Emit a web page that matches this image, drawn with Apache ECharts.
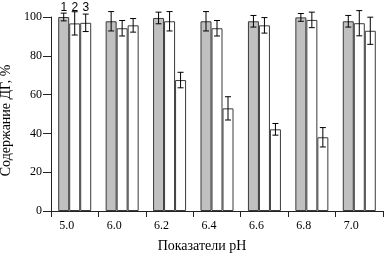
<!DOCTYPE html>
<html>
<head>
<meta charset="UTF-8">
<title>pH</title>
<script type="text/javascript" src="https://cdn.jsdelivr.net/npm/echarts@6/dist/echarts.min.js"></script>
<style>
body { margin: 0; background: #fff; }
#div { width: 384px; height: 254px; }
</style>
</head>
<body>
<div id="div"></div>
<script type="text/javascript">
var categories = ['5.0', '6.0', '6.2', '6.4', '6.6', '6.8', '7.0'];
var s1 = [100, 97.8, 99.5, 97.8, 97.8, 99.8, 97.8];
var s2 = [96.7, 94.2, 97.8, 94.2, 95.7, 98.5, 96.8];
var s3 = [97, 95.7, 67.5, 52.9, 42.1, 38, 92.9];
var e1 = [2, 5, 3, 5, 3, 2, 3];
var e2 = [6, 4, 5, 4, 4, 4, 6.5];
var e3 = [4.5, 3.5, 4, 6, 3, 5, 7];
var seriesNames = ['1', '2', '3'];
var yTicks = [0, 20, 40, 60, 80, 100];

var barW = 11;
var font = '"Liberation Serif", "DejaVu Serif", serif';

function errSeries(vals, errs, k) {
	return {
		type : 'custom',
		z : 10,
		data : vals.map(function(v, i) { return [i, v, errs[i]]; }),
		encode : { x : 0, y : 1 },
		renderItem : function(params, api) {
			var i = api.value(0), v = api.value(1), e = api.value(2);
			var hi = api.coord([i, v + e]);
			var lo = api.coord([i, v - e]);
			var x = hi[0] + (k - 1) * barW;
			var c = 3;
			var st = { stroke : '#000', lineWidth : 1 };
			return { type : 'group', children : [
				{ type : 'line', shape : { x1 : x, y1 : hi[1], x2 : x, y2 : lo[1] }, style : st },
				{ type : 'line', shape : { x1 : x - c, y1 : hi[1], x2 : x + c, y2 : hi[1] }, style : st },
				{ type : 'line', shape : { x1 : x - c, y1 : lo[1], x2 : x + c, y2 : lo[1] }, style : st }
			] };
		}
	};
}

function barSeries(vals, name, color) {
	return {
		name : name,
		type : 'bar',
		barWidth : barW,
		barGap : '0%',
		data : vals,
		itemStyle : { color : color, borderColor : '#3a3a3a', borderWidth : 1 }
	};
}

var mychart = echarts.init(document.getElementById('div'));
var option = {
	animation : false,
	grid : { left : 51, right : 1, top : 17, bottom : 43, outerBoundsMode : 'none', containLabel : false },
	xAxis : {
		type : 'category',
		data : categories,
		name : 'Показатели pH',
		nameLocation : 'middle',
		nameGap : 28,
		nameTextStyle : { fontFamily : font, fontSize : 14, color : '#000', padding : [0, 30, 0, 0] },
		axisLine : { lineStyle : { color : '#222', width : 1 } },
		axisTick : { show : true, length : 6, lineStyle : { color : '#222' } },
		axisLabel : { fontFamily : font, fontSize : 12, color : '#000', margin : 9, padding : [0, 16, 0, 0] }
	},
	yAxis : {
		type : 'value',
		min : 0,
		max : 100,
		interval : 20,
		name : 'Содержание ДГ, %',
		nameLocation : 'middle',
		nameGap : 36,
		nameTextStyle : { fontFamily : font, fontSize : 14, color : '#000', padding : [0, 13, 0, 0] },
		axisLine : { show : true, lineStyle : { color : '#222', width : 1 } },
		axisTick : { show : true, length : 8, lineStyle : { color : '#222' } },
		axisLabel : {
			fontFamily : font, fontSize : 12, color : '#000', margin : 9,
			formatter : function(v) { return yTicks.indexOf(v) >= 0 ? String(v) : ''; }
		},
		splitLine : { show : false }
	},
	series : [
		barSeries(s1, seriesNames[0], '#c0c0c0'),
		barSeries(s2, seriesNames[1], '#ffffff'),
		barSeries(s3, seriesNames[2], '#ffffff'),
		errSeries(s1, e1, 0),
		errSeries(s2, e2, 1),
		errSeries(s3, e3, 2)
	]
};
mychart.setOption(option);

// series numbers above the first group
var c0 = mychart.convertToPixel({ xAxisIndex : 0, yAxisIndex : 0 }, [0, 100]);
mychart.setOption({
	graphic : seriesNames.map(function(n, k) {
		return {
			type : 'text',
			x : c0[0] + (k - 1) * barW,
			y : 8,
			style : { text : n, fontFamily : 'Liberation Sans, Arial, sans-serif', fontSize : 12, fill : '#000', align : 'center', verticalAlign : 'middle' }
		};
	})
});
</script>
</body>
</html>
